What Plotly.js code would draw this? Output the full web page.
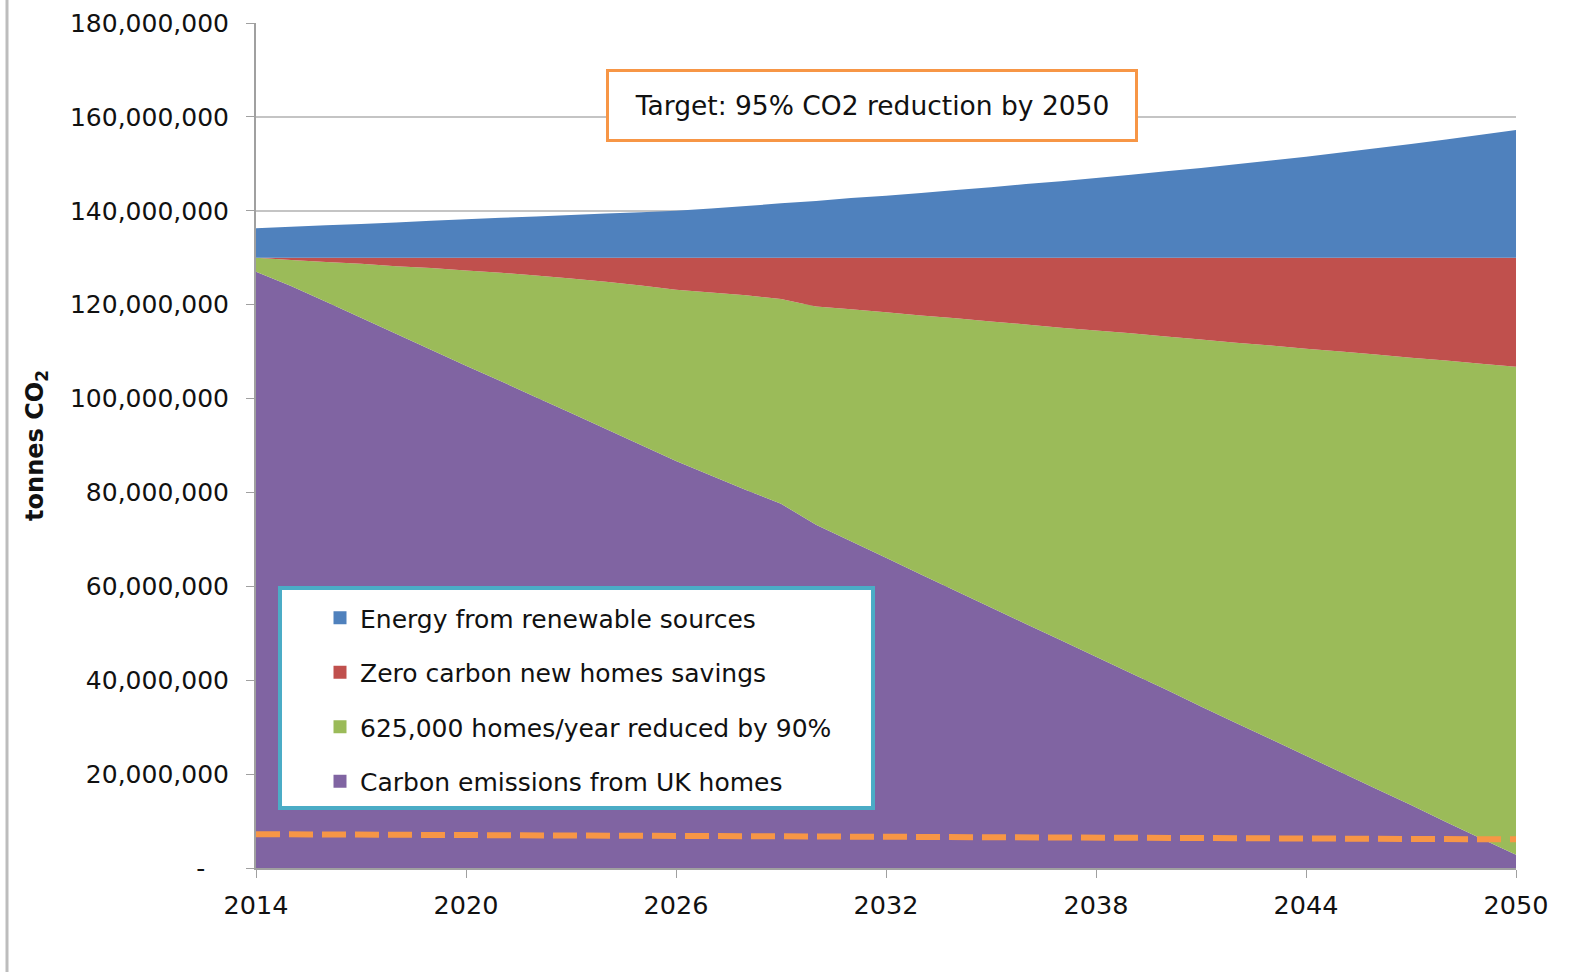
<!DOCTYPE html>
<html>
<head>
<meta charset="utf-8">
<script src="https://cdn.plot.ly/plotly-3.0.1.min.js"></script>
<style>html,body{margin:0;padding:0;background:#fff;}#chart{width:1572px;height:977px;}</style>
</head>
<body>
<div id="chart"></div>
<script>
// ---- data (million tonnes CO2) ----
const years = [2014,2015,2016,2017,2018,2019,2020,2021,2022,2023,2024,2025,2026,2027,2028,2029,2030,2031,2032,2033,2034,2035,2036,2037,2038,2039,2040,2041,2042,2043,2044,2045,2046,2047,2048,2049,2050];
const carbonUKHomes = [127.0,124.0,120.6,117.2,113.8,110.4,107.0,103.7,100.3,96.9,93.5,90.1,86.7,83.6,80.5,77.6,73.1,69.6,66.1,62.5,59.0,55.5,52.0,48.5,45.0,41.5,38.0,34.4,30.9,27.4,23.9,20.4,16.9,13.4,9.8,6.3,2.8];
const homesReduced90 = [3.0,5.5,8.5,11.5,14.4,17.4,20.3,23.1,25.9,28.7,31.4,34.0,36.5,39.0,41.5,43.6,46.5,49.4,52.3,55.2,58.1,60.9,63.8,66.6,69.5,72.4,75.2,78.2,81.0,83.9,86.7,89.6,92.5,95.3,98.3,101.1,104.0];
const zeroCarbonNew = [0.0,0.5,0.9,1.3,1.8,2.2,2.7,3.2,3.8,4.4,5.1,5.9,6.8,7.4,8.0,8.8,10.4,11.0,11.6,12.3,12.9,13.6,14.2,14.9,15.5,16.1,16.8,17.4,18.1,18.7,19.4,20.0,20.6,21.3,21.9,22.6,23.2];
const renewables = [6.3,6.6,6.9,7.2,7.5,7.9,8.2,8.5,8.8,9.1,9.4,9.7,10.0,10.5,11.0,11.6,12.1,12.7,13.2,13.8,14.4,15.0,15.7,16.3,17.0,17.7,18.4,19.1,19.9,20.7,21.5,22.4,23.3,24.2,25.2,26.2,27.2];
const targetYears = [2014, 2050];
const targetLine = [7.2, 6.1];
const UNIT = 1e6;

const seriesNames = ["Carbon emissions from UK homes","625,000 homes/year reduced by 90%","Zero carbon new homes savings","Energy from renewable sources"];
const yTickVals = [0,20,40,60,80,100,120,140,160,180];
const yTickText = ["-\u00a0\u00a0\u00a0","20,000,000","40,000,000","60,000,000","80,000,000","100,000,000","120,000,000","140,000,000","160,000,000","180,000,000"];
const xTickVals = [2014,2020,2026,2032,2038,2044,2050];
const annotationText = "Target: 95% CO2 reduction by 2050";
const yTitle = "tonnes CO<sub>2</sub>";

// ---- styling ----
const colors = ["#8064A2","#9BBB59","#C0504D","#4F81BD"];
const FONT = "DejaVu Sans, Verdana, sans-serif";
const W = 1572, H = 977;
const PL = 256, PR = 1516, PT = 23, PB = 868;
const px = x => (x - PL) / (PR - PL);
const py = y => (PB - y) / (PB - PT);

const stackSeries = [carbonUKHomes, homesReduced90, zeroCarbonNew, renewables];
const traces = [];
stackSeries.forEach((s, i) => {
  traces.push({
    type: "scatter", mode: "none", x: years, y: s.map(v => v * UNIT),
    stackgroup: "one", fill: "tonexty", fillcolor: colors[i],
    line: {width: 0}, name: seriesNames[i], showlegend: false,
    legendgroup: "g" + i, hoverinfo: "x+y+name"
  });
});
traces.push({
  type: "scatter", mode: "lines", x: targetYears, y: targetLine.map(v => v * UNIT),
  line: {color: "#F79646", width: 6, dash: "24px,9px"}, showlegend: false, name: "Target", hoverinfo: "skip"
});
// legend entries (square swatches), top to bottom
[3,2,1,0].forEach(i => {
  traces.push({
    type: "scatter", mode: "markers", x: [null], y: [null], name: seriesNames[i],
    legendgroup: "g" + i, showlegend: true,
    marker: {symbol: "square", size: 13, color: colors[i]}
  });
});

const layout = {
  width: W, height: H,
  margin: {l: PL, r: W - PR, t: PT, b: H - PB},
  paper_bgcolor: "#ffffff", plot_bgcolor: "#ffffff",
  font: {family: FONT, color: "#222222"},
  showlegend: true,
  legend: {
    x: px(320), y: py(595), xanchor: "left", yanchor: "top",
    bgcolor: "rgba(0,0,0,0)", borderwidth: 0,
    font: {family: FONT, size: 25, color: "#111111"},
    traceorder: "grouped", tracegroupgap: 19, itemwidth: 30
  },
  xaxis: {
    range: [2014, 2050], tickvals: xTickVals, ticks: "outside", ticklen: 8, tickcolor: "#A0A0A0",
    showgrid: false, zeroline: false, showline: true, linecolor: "#A0A0A0", linewidth: 2,
    tickfont: {family: FONT, size: 25.5, color: "#111111"}, ticklabelstandoff: 5, fixedrange: true
  },
  yaxis: {
    range: [0, 180 * UNIT], tickvals: yTickVals.map(v => v * UNIT), ticktext: yTickText,
    ticks: "outside", ticklen: 8, tickcolor: "#A0A0A0",
    showgrid: true, gridcolor: "#C4C4C4", gridwidth: 2, zeroline: false,
    showline: true, linecolor: "#A0A0A0", linewidth: 2,
    tickfont: {family: FONT, size: 25, color: "#111111"}, ticklabelstandoff: 12,
    title: {text: yTitle, font: {family: FONT, size: 24, color: "#111111", weight: "bold"}, standoff: 20},
    automargin: false, fixedrange: true
  },
  shapes: [
    {type: "rect", xref: "paper", yref: "paper", x0: px(280), x1: px(873), y0: py(808), y1: py(588),
     fillcolor: "#ffffff", line: {color: "#4BACC6", width: 4}, layer: "above"},
    {type: "line", xref: "paper", yref: "paper", x0: px(7), x1: px(7), y0: py(0), y1: py(972),
     line: {color: "#BDBDBD", width: 3}}
  ],
  annotations: [
    {text: annotationText, xref: "paper", yref: "paper", x: px(871.5), y: py(105.5),
     xanchor: "center", yanchor: "middle", showarrow: false,
     font: {family: FONT, size: 26.5, color: "#111111"},
     bgcolor: "#ffffff", bordercolor: "#F79646", borderwidth: 3, borderpad: 0,
     width: 526, height: 67, align: "center", valign: "middle"}
  ]
};

Plotly.newPlot("chart", traces, layout, {displayModeBar: false, staticPlot: true});
</script>
</body>
</html>
